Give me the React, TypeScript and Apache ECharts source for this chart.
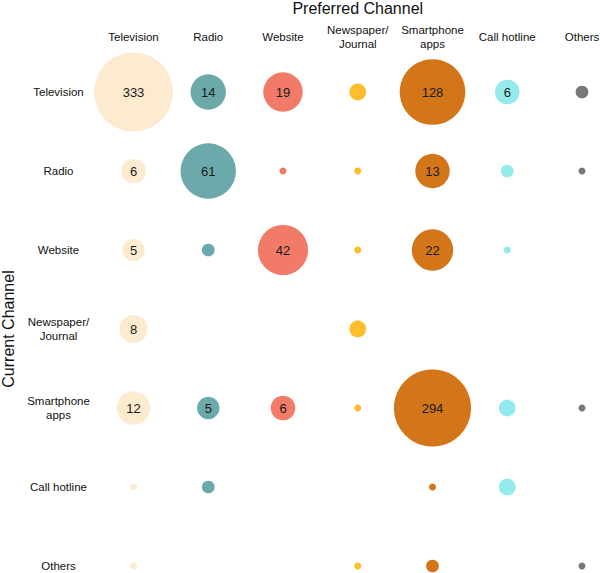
import React, { useEffect, useRef } from "react";
import * as echarts from "echarts";

const preferredChannels = ["Television", "Radio", "Website", "Newspaper/\nJournal", "Smartphone\napps", "Call hotline", "Others"];
const currentChannels = ["Television", "Radio", "Website", "Newspaper/\nJournal", "Smartphone\napps", "Call hotline", "Others"];
const channelColors = ["#FDEBD0", "#6BA9AA", "#F27A68", "#FDBD2C", "#D27619", "#93EBEB", "#787878"];

// rows: current channel; columns: preferred channel (null = no respondents)
const rowTelevision = [333, 14, 19, 3, 128, 6, 2];
const rowRadio = [6, 61, 1, 1, 13, 2, 1];
const rowWebsite = [5, 2, 42, 1, 22, 1, null];
const rowNewspaper = [8, null, null, 3, null, null, null];
const rowSmartphone = [12, 5, 6, 1, 294, 3, 1];
const rowCallHotline = [1, 2, null, null, 1, 3, null];
const rowOthers = [1, null, null, 1, 2, null, 1];

const matrix = [rowTelevision, rowRadio, rowWebsite, rowNewspaper, rowSmartphone, rowCallHotline, rowOthers];

const FONT = "'Liberation Sans', Arial, sans-serif";

export default function App() {
  const ref = useRef<HTMLDivElement>(null);
  useEffect(() => {
    document.body.style.margin = "0";
    const chart = echarts.init(ref.current!, null, { renderer: "svg" });
    const series = preferredChannels.map((_, c) => ({
      type: "scatter",
      data: matrix
        .map((row, r) => (row[c] == null ? null : [c, r, row[c]]))
        .filter((d) => d !== null),
      symbol: "circle",
      symbolSize: (d: number[]) => 14.05 * Math.log(d[2] + 1) - 2.7,
      itemStyle: { color: channelColors[c], opacity: 1 },
      label: {
        show: true,
        position: "inside",
        fontSize: 13,
        fontFamily: FONT,
        color: "#1a1a1a",
        formatter: (p: any) => (p.value[2] >= 5 ? String(p.value[2]) : ""),
      },
      emphasis: { disabled: true },
    }));
    chart.setOption({
      animation: false,
      grid: { left: 133.5, right: 18, top: 92, bottom: 7, containLabel: false, outerBoundsMode: "none" },
      xAxis: {
        type: "category",
        data: preferredChannels,
        position: "top",
        boundaryGap: false,
        name: "Preferred Channel",
        nameLocation: "middle",
        nameGap: 84,
        nameTextStyle: { fontSize: 16, fontFamily: FONT, color: "#111", verticalAlign: "middle" },
        axisLine: { show: false },
        axisTick: { show: false },
        splitLine: { show: false },
        axisLabel: {
          interval: 0,
          margin: 55,
          verticalAlign: "middle",
          fontSize: 11.5,
          lineHeight: 14,
          fontFamily: FONT,
          color: "#111",
        },
      },
      yAxis: {
        type: "category",
        data: currentChannels,
        inverse: true,
        boundaryGap: false,
        name: "Current Channel",
        nameLocation: "middle",
        nameGap: 123,
        nameRotate: 90,
        nameTextStyle: { fontSize: 16, fontFamily: FONT, color: "#111", verticalAlign: "middle" },
        axisLine: { show: false },
        axisTick: { show: false },
        splitLine: { show: false },
        axisLabel: {
          interval: 0,
          margin: 75,
          align: "center",
          fontSize: 11.5,
          lineHeight: 14,
          fontFamily: FONT,
          color: "#111",
        },
      },
      series,
    });
    return () => chart.dispose();
  }, []);
  return <div ref={ref} style={{ position: "absolute", left: 0, top: 0, width: 600, height: 573 }} />;
}
